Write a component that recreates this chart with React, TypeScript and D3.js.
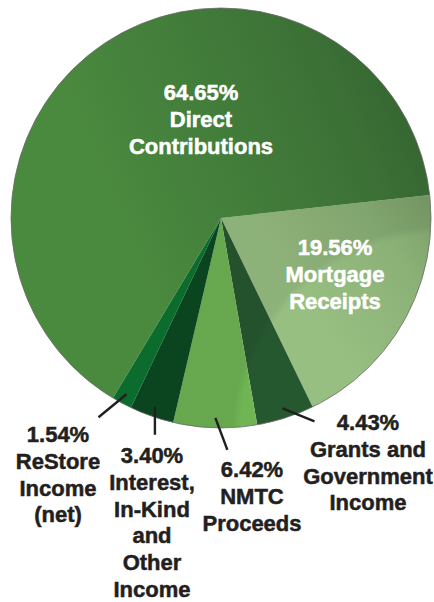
import React from "react";
import * as d3 from "d3";

// slice order clockwise starting at the Mortgage edge
const categories = [
  "Mortgage Receipts",
  "Grants and Government Income",
  "NMTC Proceeds",
  "Interest, In-Kind and Other Income",
  "ReStore Income (net)",
  "Direct Contributions",
];
const values = [19.56, 4.43, 6.42, 3.4, 1.54, 64.65];
const labelLines = [
  ["19.56%", "Mortgage", "Receipts"],
  ["4.43%", "Grants and", "Government", "Income"],
  ["6.42%", "NMTC", "Proceeds"],
  ["3.40%", "Interest,", "In-Kind", "and", "Other", "Income"],
  ["1.54%", "ReStore", "Income", "(net)"],
  ["64.65%", "Direct", "Contributions"],
];

const W = 434;
const H = 602;
const cx = 221;
const cy = 218;
const R = 210;
const startDeg = 83.7;

const fills = [
  "url(#gMortgage)",
  "#265830",
  "#6fb554",
  "#0b4a22",
  "#0c7431",
  "url(#gDirect)",
];

// label layout: x, first baseline, inside the pie?, leader end offset
const labelLayout: { x: number; y: number; inside: boolean; ldx?: number; ldy?: number }[] = [
  { x: 335, y: 255, inside: true },
  { x: 368, y: 430, inside: false, ldx: 32, ldy: 13 },
  { x: 252, y: 477, inside: false, ldx: 12, ldy: 32 },
  { x: 152, y: 463, inside: false, ldx: 0, ldy: 28 },
  { x: 58, y: 442, inside: false, ldx: -28, ldy: 23 },
  { x: 201, y: 100, inside: true },
];

const lineH = 26.8;
const font = "'Liberation Sans', Arial, Helvetica, sans-serif";

export default function App() {
  const pie = d3
    .pie<number>()
    .sort(null)
    .startAngle((startDeg * Math.PI) / 180)
    .endAngle((startDeg * Math.PI) / 180 + 2 * Math.PI);
  const arcs = pie(values);
  const arc = d3.arc<d3.PieArcDatum<number>>().innerRadius(0).outerRadius(R);
  const leaderArc = d3.arc<d3.PieArcDatum<number>>().innerRadius(200).outerRadius(200);

  return (
    <svg
      width={W}
      height={H}
      style={{ position: "absolute", left: 0, top: 0, background: "#fff" }}
    >
      <defs>
        <linearGradient id="gDirect" gradientUnits="userSpaceOnUse" x1={cx - R} y1={cy + 60} x2={cx + R} y2={cy - 120}>
          <stop offset="0" stopColor="#4f9443" />
          <stop offset="0.5" stopColor="#427c3b" />
          <stop offset="1" stopColor="#2d582d" />
        </linearGradient>
        <linearGradient id="gMortgage" gradientUnits="userSpaceOnUse" x1={cx + 40} y1={cy + 120} x2={cx + R} y2={cy}>
          <stop offset="0" stopColor="#98bf82" />
          <stop offset="0.5" stopColor="#8bb177" />
          <stop offset="1" stopColor="#6f945f" />
        </linearGradient>
        <radialGradient id="gRim" cx={cx} cy={cy} r={R} gradientUnits="userSpaceOnUse">
          <stop offset="0.96" stopColor="#000" stopOpacity="0" />
          <stop offset="1" stopColor="#000" stopOpacity="0.07" />
        </radialGradient>
      </defs>
      <g transform={`translate(${cx},${cy})`}>
        {arcs.map((a, i) => (
          <path key={categories[i]} d={arc(a) ?? ""} fill={fills[i]} />
        ))}
        <circle r={R} fill="url(#gRim)" stroke="#6b6b6b" strokeWidth={0.8} />
        {arcs.map((a, i) => {
          const L = labelLayout[i];
          if (L.inside) return null;
          const [sx, sy] = leaderArc.centroid(a);
          return (
            <line
              key={"l" + i}
              x1={sx}
              y1={sy}
              x2={sx + (L.ldx ?? 0)}
              y2={sy + (L.ldy ?? 0)}
              stroke="#231f20"
              strokeWidth={2.4}
            />
          );
        })}
      </g>
      {labelLines.map((lines, i) => {
        const L = labelLayout[i];
        const c = L.inside ? "#ffffff" : "#231f20";
        return (
          <text
            key={"t" + i}
            x={L.x}
            y={L.y}
            textAnchor="middle"
            style={{ fontFamily: font, fontWeight: 700, fontSize: "22px" }}
            fill={c}
            stroke={c}
            strokeWidth={0.5}
          >
            {lines.map((s, j) => (
              <tspan key={j} x={L.x} y={L.y + j * lineH}>
                {s}
              </tspan>
            ))}
          </text>
        );
      })}
    </svg>
  );
}
